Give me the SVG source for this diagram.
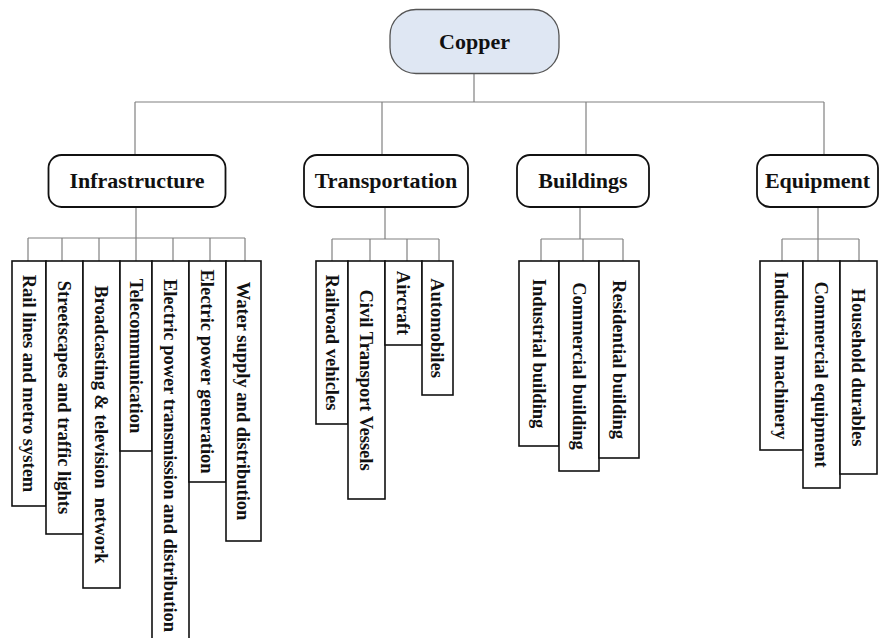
<svg xmlns="http://www.w3.org/2000/svg" width="881" height="638" viewBox="0 0 881 638">
<style>
.bg{fill:#ffffff}
.conn line{stroke:#808080;stroke-width:1.2;fill:none}
.root rect{fill:#dfe7f3;stroke:#555555;stroke-width:1.3}
.l1 rect{fill:#ffffff;stroke:#111111;stroke-width:1.8}
.leaf rect{fill:#ffffff;stroke:#111111;stroke-width:1.6}
text{font-family:"Liberation Serif","Times New Roman",serif;font-weight:bold;fill:#111111;white-space:pre}
.t1{font-size:22px;text-anchor:middle}
.tv{font-size:18.5px;text-anchor:middle}
</style>
<rect class="bg" x="0" y="0" width="881" height="638"/>
<g id="connectors" class="conn">
<line x1="474" y1="74" x2="474" y2="102"/>
<line x1="135" y1="102" x2="824" y2="102"/>
<line x1="135" y1="102" x2="135" y2="155"/>
<line x1="382" y1="102" x2="382" y2="155"/>
<line x1="586" y1="102" x2="586" y2="155"/>
<line x1="824" y1="102" x2="824" y2="155"/>
<line x1="136" y1="207" x2="136" y2="238"/>
<line x1="28" y1="238" x2="245" y2="238"/>
<line x1="28" y1="238" x2="28" y2="261"/>
<line x1="62" y1="238" x2="62" y2="261"/>
<line x1="99" y1="238" x2="99" y2="261"/>
<line x1="136" y1="238" x2="136" y2="261"/>
<line x1="173" y1="238" x2="173" y2="261"/>
<line x1="210" y1="238" x2="210" y2="261"/>
<line x1="245" y1="238" x2="245" y2="261"/>
<line x1="385" y1="207" x2="385" y2="239"/>
<line x1="332" y1="239" x2="439" y2="239"/>
<line x1="332" y1="239" x2="332" y2="261"/>
<line x1="370" y1="239" x2="370" y2="261"/>
<line x1="407" y1="239" x2="407" y2="261"/>
<line x1="439" y1="239" x2="439" y2="261"/>
<line x1="580" y1="207" x2="580" y2="239"/>
<line x1="541" y1="239" x2="623" y2="239"/>
<line x1="541" y1="239" x2="541" y2="261"/>
<line x1="583" y1="239" x2="583" y2="261"/>
<line x1="623" y1="239" x2="623" y2="261"/>
<line x1="818" y1="207" x2="818" y2="239"/>
<line x1="782" y1="239" x2="859" y2="239"/>
<line x1="782" y1="239" x2="782" y2="261"/>
<line x1="818" y1="239" x2="818" y2="261"/>
<line x1="859" y1="239" x2="859" y2="261"/>
</g>
<g id="copper" class="root">
<rect x="390" y="9.5" width="169" height="64" rx="26" ry="26"/>
<text class="t1" x="474.5" y="48.5">Copper</text>
</g>
<g id="infrastructure" class="l1">
<rect x="48.5" y="155" width="177" height="52" rx="13" ry="13"/>
<text class="t1" x="137" y="188">Infrastructure</text>
</g>
<g id="transportation" class="l1">
<rect x="304" y="155" width="164" height="52" rx="13" ry="13"/>
<text class="t1" x="386" y="188">Transportation</text>
</g>
<g id="buildings" class="l1">
<rect x="517" y="155" width="132" height="52" rx="13" ry="13"/>
<text class="t1" x="583" y="188">Buildings</text>
</g>
<g id="equipment" class="l1">
<rect x="757" y="155" width="121" height="52" rx="13" ry="13"/>
<text class="t1" x="817.5" y="188">Equipment</text>
</g>
<g id="rail-lines" class="leaf">
<rect x="12" y="261" width="34" height="245"/>
<text class="tv" transform="translate(22.7,383.5) rotate(90)">Rail lines and metro system</text>
</g>
<g id="streetscapes" class="leaf">
<rect x="46" y="261" width="37" height="273"/>
<text class="tv" transform="translate(58.2,397.5) rotate(90)">Streetscapes and traffic lights</text>
</g>
<g id="broadcasting" class="leaf">
<rect x="83" y="261" width="37" height="327"/>
<text class="tv" transform="translate(95.2,424.5) rotate(90)">Broadcasting &amp; television  network</text>
</g>
<g id="telecommunication" class="leaf">
<rect x="120" y="261" width="32" height="190"/>
<text class="tv" transform="translate(129.7,356) rotate(90)">Telecommunication</text>
</g>
<g id="power-transmission" class="leaf">
<rect x="152" y="261" width="37" height="389"/>
<text class="tv" transform="translate(164.2,455.5) rotate(90)">Electric power transmission and distribution</text>
</g>
<g id="power-generation" class="leaf">
<rect x="189" y="261" width="37" height="221"/>
<text class="tv" transform="translate(201.2,371.5) rotate(90)">Electric power generation</text>
</g>
<g id="water-supply" class="leaf">
<rect x="226" y="261" width="35" height="280"/>
<text class="tv" transform="translate(237.2,401) rotate(90)">Water supply and distribution</text>
</g>
<g id="railroad-vehicles" class="leaf">
<rect x="316" y="261" width="32" height="163"/>
<text class="tv" transform="translate(325.7,342.5) rotate(90)">Railroad vehicles</text>
</g>
<g id="civil-transport" class="leaf">
<rect x="348" y="261" width="37" height="238"/>
<text class="tv" transform="translate(360.2,380) rotate(90)">Civil Transport Vessels</text>
</g>
<g id="aircraft" class="leaf">
<rect x="385" y="261" width="37" height="84"/>
<text class="tv" transform="translate(397.2,303) rotate(90)">Aircraft</text>
</g>
<g id="automobiles" class="leaf">
<rect x="422" y="261" width="31" height="134"/>
<text class="tv" transform="translate(431.2,328) rotate(90)">Automobiles</text>
</g>
<g id="industrial-building" class="leaf">
<rect x="519" y="261" width="40" height="185"/>
<text class="tv" transform="translate(532.7,353.5) rotate(90)">Industrial building</text>
</g>
<g id="commercial-building" class="leaf">
<rect x="559" y="261" width="40" height="210"/>
<text class="tv" transform="translate(572.7,366) rotate(90)">Commercial building</text>
</g>
<g id="residential-building" class="leaf">
<rect x="599" y="261" width="40" height="197"/>
<text class="tv" transform="translate(612.7,359.5) rotate(90)">Residential building</text>
</g>
<g id="industrial-machinery" class="leaf">
<rect x="760" y="261" width="43" height="189"/>
<text class="tv" transform="translate(775.2,355.5) rotate(90)">Industrial machinery</text>
</g>
<g id="commercial-equipment" class="leaf">
<rect x="803" y="261" width="37" height="227"/>
<text class="tv" transform="translate(815.2,374.5) rotate(90)">Commercial equipment</text>
</g>
<g id="household-durables" class="leaf">
<rect x="840" y="261" width="37" height="213"/>
<text class="tv" transform="translate(852.2,367.5) rotate(90)">Household durables</text>
</g>
</svg>
